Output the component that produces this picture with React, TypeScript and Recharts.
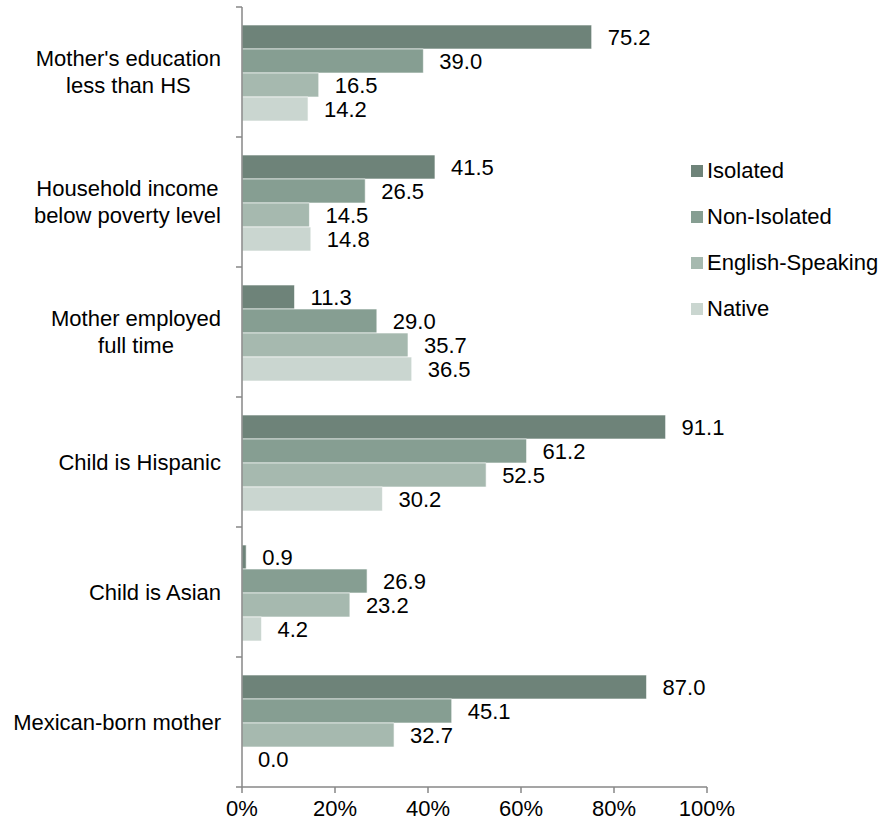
import { Bar, BarChart, LabelList, XAxis, YAxis } from "recharts";

const categories = [
  "Mother's education\nless than HS",
  "Household income\nbelow poverty level",
  "Mother employed\nfull time",
  "Child is Hispanic",
  "Child is Asian",
  "Mexican-born mother",
];

const isolated = [75.2, 41.5, 11.3, 91.1, 0.9, 87.0];
const nonIsolated = [39.0, 26.5, 29.0, 61.2, 26.9, 45.1];
const englishSpeaking = [16.5, 14.5, 35.7, 52.5, 23.2, 32.7];
const native = [14.2, 14.8, 36.5, 30.2, 4.2, 0.0];

const xTicks = [0, 20, 40, 60, 80, 100];

const series = [
  { key: "isolated", name: "Isolated", color: "#6e8379" },
  { key: "nonIsolated", name: "Non-Isolated", color: "#869e92" },
  { key: "englishSpeaking", name: "English-Speaking", color: "#a6b9af" },
  { key: "native", name: "Native", color: "#cad6d0" },
];

const data = categories.map((category, i) => ({
  category,
  isolated: isolated[i],
  nonIsolated: nonIsolated[i],
  englishSpeaking: englishSpeaking[i],
  native: native[i],
}));

const FONT = "'Liberation Sans', Arial, sans-serif";
const FONT_SIZE = 22;
const AXIS_COLOR = "#878787";
const LABEL_GAP = 21;

let measureCtx: CanvasRenderingContext2D | null = null;
function textWidth(s: string) {
  if (!measureCtx) {
    const c = document.createElement("canvas");
    measureCtx = c.getContext("2d");
  }
  if (!measureCtx) return s.length * FONT_SIZE * 0.5;
  measureCtx.font = `${FONT_SIZE}px 'Liberation Sans', Arial, sans-serif`;
  return measureCtx.measureText(s).width;
}

function CategoryTick(props: any) {
  const { x, y, payload, index, visibleTicksCount } = props;
  const lines = String(payload.value).split("\n");
  const half = payload.offset ?? 65;
  const axisX = x + LABEL_GAP;
  const maxW = Math.max(...lines.map(textWidth));
  const lineH = 27;
  const startY = y - ((lines.length - 1) * lineH) / 2;
  const isLast = index === (visibleTicksCount ?? categories.length) - 1;
  return (
    <g>
      <line x1={axisX - 6} x2={axisX} y1={y - half} y2={y - half} stroke={AXIS_COLOR} strokeWidth={1.5} />
      {isLast && (
        <line x1={axisX - 6} x2={axisX} y1={y + half} y2={y + half} stroke={AXIS_COLOR} strokeWidth={1.5} />
      )}
      {lines.map((ln, i) => (
        <text
          key={i}
          x={lines.length > 1 ? x - maxW / 2 : x}
          y={startY + i * lineH}
          textAnchor={lines.length > 1 ? "middle" : "end"}
          dominantBaseline="central"
          fontSize={FONT_SIZE}
          fontFamily={FONT}
          fill="#000"
        >
          {ln}
        </text>
      ))}
    </g>
  );
}

export default function App() {
  return (
    <div style={{ position: "absolute", left: 0, top: 0, width: 885, height: 827, background: "#fff", fontFamily: FONT }}>
      <BarChart
        width={885}
        height={827}
        data={data}
        layout="vertical"
        margin={{ top: 7, right: 178, bottom: 0, left: 0 }}
        barCategoryGap={18}
        barGap={0}
      >
        <XAxis
          type="number"
          domain={[0, 100]}
          ticks={xTicks}
          tickFormatter={(v) => `${v}%`}
          height={40}
          tickSize={6}
          tickMargin={7}
          axisLine={{ stroke: AXIS_COLOR, strokeWidth: 1.5 }}
          tickLine={{ stroke: AXIS_COLOR, strokeWidth: 1.5 }}
          tick={{ fill: "#000", fontSize: FONT_SIZE, fontFamily: FONT }}
          interval={0}
        />
        <YAxis
          type="category"
          dataKey="category"
          width={242}
          tickSize={0}
          tickMargin={LABEL_GAP}
          axisLine={{ stroke: AXIS_COLOR, strokeWidth: 1.5 }}
          tickLine={false}
          tick={<CategoryTick />}
          interval={0}
        />
        {series.map((s) => (
          <Bar
            key={s.key}
            dataKey={s.key}
            name={s.name}
            fill={s.color}
            stroke="#ffffff"
            strokeOpacity={0.6}
            strokeWidth={1}
            minPointSize={0.01}
            isAnimationActive={false}
          >
            <LabelList
              dataKey={s.key}
              position="right"
              offset={16}
              formatter={(v: any) => Number(v).toFixed(1)}
              style={{ fill: "#000", fontSize: FONT_SIZE, fontFamily: FONT }}
            />
          </Bar>
        ))}
      </BarChart>
      <div style={{ position: "absolute", left: 691, top: 148, fontSize: FONT_SIZE, color: "#000" }}>
        {series.map((s) => (
          <div key={s.key} style={{ display: "flex", alignItems: "center", height: 46, whiteSpace: "nowrap" }}>
            <span style={{ display: "inline-block", width: 12, height: 12, background: s.color, marginRight: 4 }} />
            <span>{s.name}</span>
          </div>
        ))}
      </div>
    </div>
  );
}
